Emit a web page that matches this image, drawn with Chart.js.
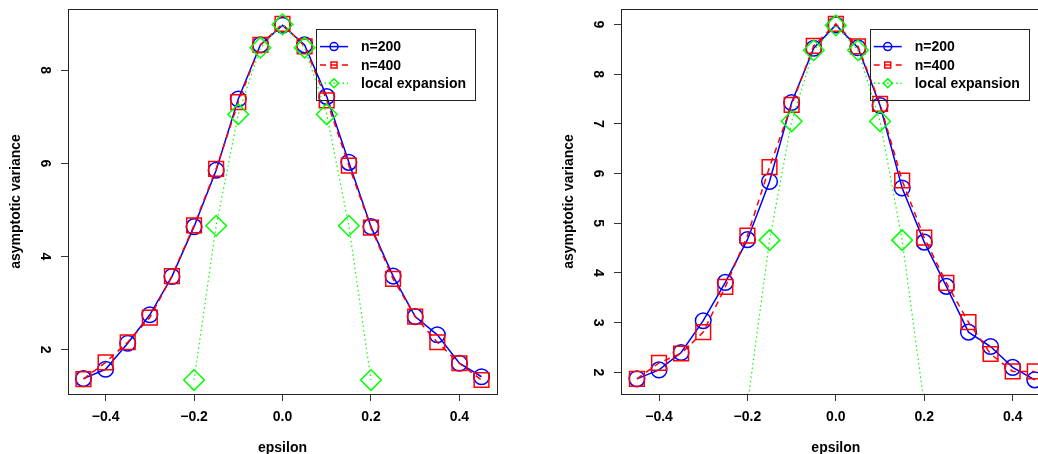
<!DOCTYPE html>
<html>
<head>
<meta charset="utf-8">
<title>asymptotic variance</title>
<script src="https://cdn.jsdelivr.net/npm/chart.js@4/dist/chart.umd.min.js"></script>
<style>
    html, body { margin: 0; padding: 0; background: #fff; overflow: hidden; }
    #wrap { position: relative; width: 1038px; height: 454px; overflow: hidden; }
    .panel { position: absolute; top: 0; }
</style>
</head>
<body>
<div id="wrap">
    <div class="panel" style="left:0px"><canvas id="leftChart" width="519" height="454"></canvas></div>
    <div class="panel" style="left:519px"><canvas id="rightChart" width="540" height="454"></canvas></div>
</div>
<script>
// epsilon values (x axis)
const epsilon = [-0.45, -0.40, -0.35, -0.30, -0.25, -0.20, -0.15, -0.10, -0.05, 0.00,
                 0.05, 0.10, 0.15, 0.20, 0.25, 0.30, 0.35, 0.40, 0.45];

// left panel
const leftN200 = [1.38, 1.58, 2.14, 2.75, 3.57, 4.64, 5.85, 7.38, 8.54, 8.96,
                  8.54, 7.43, 6.02, 4.64, 3.58, 2.71, 2.32, 1.71, 1.42];
const leftN400 = [1.37, 1.73, 2.16, 2.69, 3.58, 4.67, 5.88, 7.31, 8.54, 8.99,
                  8.51, 7.35, 5.95, 4.62, 3.52, 2.71, 2.16, 1.71, 1.35];

// right panel
const rightN200 = [1.87, 2.05, 2.40, 3.04, 3.81, 4.67, 5.84, 7.43, 8.52, 8.99,
                   8.53, 7.37, 5.71, 4.62, 3.73, 2.81, 2.52, 2.10, 1.85];
const rightN400 = [1.87, 2.19, 2.38, 2.81, 3.72, 4.75, 6.13, 7.38, 8.57, 9.01,
                   8.56, 7.40, 5.86, 4.71, 3.80, 3.01, 2.37, 2.02, 2.02];

// local expansion (same curve in both panels)
const localEps = [-0.20, -0.15, -0.10, -0.05, 0.00, 0.05, 0.10, 0.15, 0.20];
const localExp = [1.35, 4.66, 7.05, 8.48, 8.98, 8.48, 7.05, 4.66, 1.35];

const xTicks = [-0.4, -0.2, 0.0, 0.2, 0.4];
const leftYTicks = [2, 4, 6, 8];
const rightYTicks = [2, 3, 4, 5, 6, 7, 8, 9];

const seriesLabels = ["n=200", "n=400", "local expansion"];

const FONT = "'Liberation Sans', Arial, sans-serif";
const BLUE = "#0000ff", RED = "#ff0000", GREEN = "#00ff00";

function toPoints(xs, ys) {
    return xs.map((x, i) => ({ x: x, y: ys[i] }));
}

// draws the box around the plot region and the R-style legend
const framePlugin = {
    id: "frame",
    afterDatasetsDraw(chart) {
        const ctx = chart.ctx;
        const a = chart.chartArea;
        ctx.save();
        ctx.strokeStyle = "#222";
        ctx.lineWidth = 1;
        ctx.setLineDash([]);
        ctx.strokeRect(Math.round(a.left) + 0.5, Math.round(a.top) + 0.5,
                       Math.round(a.right - a.left), Math.round(a.bottom - a.top));

        // legend box
        const right = a.right - 21.3;
        const left = right - 159.7;
        const top = a.top + 19.6;
        ctx.strokeRect(Math.round(left) + 0.5, Math.round(top) + 0.5, 159, 71);

        chart.data.datasets.forEach((ds, i) => {
            const y = top + 18 + i * 18.3;
            ctx.strokeStyle = ds.borderColor;
            ctx.lineWidth = 1.5;
            ctx.setLineDash(ds.borderDash || []);
            ctx.beginPath();
            ctx.moveTo(left + 4, y);
            ctx.lineTo(left + 32, y);
            ctx.stroke();
            ctx.setLineDash([]);
            const cx = left + 18;
            ctx.beginPath();
            if (ds.pointStyle === "circle") {
                ctx.arc(cx, y, 4, 0, Math.PI * 2);
            } else if (ds.pointStyle === "rect") {
                ctx.rect(cx - 3, y - 3, 6, 6);
            } else {
                ctx.moveTo(cx, y - 4.5); ctx.lineTo(cx + 4.5, y);
                ctx.lineTo(cx, y + 4.5); ctx.lineTo(cx - 4.5, y);
                ctx.closePath();
            }
            ctx.stroke();
            ctx.fillStyle = "#000";
            ctx.font = "bold 14px " + FONT;
            ctx.textBaseline = "middle";
            ctx.textAlign = "left";
            ctx.fillText(seriesLabels[i], left + 45, y + 1);
        });
        ctx.restore();
    }
};

function makeChart(canvasId, n200, n400, yMin, yMax, xMin, xMax, yTicks, padding) {
    const ctx = document.getElementById(canvasId).getContext("2d");
    return new Chart(ctx, {
        type: "line",
        data: {
            datasets: [
                { label: seriesLabels[0], data: toPoints(epsilon, n200), borderColor: BLUE,
                  backgroundColor: "transparent", borderWidth: 1.5, pointStyle: "circle",
                  pointRadius: 7.8, pointBorderWidth: 1.5, order: 2, tension: 0 },
                { label: seriesLabels[1], data: toPoints(epsilon, n400), borderColor: RED,
                  backgroundColor: "transparent", borderWidth: 1.5, borderDash: [6, 5],
                  pointStyle: "rect", pointRadius: 10.4, pointBorderWidth: 1.5, order: 1, tension: 0 },
                { label: seriesLabels[2], data: toPoints(localEps, localExp), borderColor: GREEN,
                  backgroundColor: "transparent", borderWidth: 1.2, borderDash: [1.5, 3],
                  pointStyle: "rectRot", pointRadius: 10.3, pointBorderWidth: 1.5, order: 0, tension: 0 }
            ]
        },
        options: {
            responsive: false,
            animation: false,
            devicePixelRatio: 1,
            events: [],
            layout: { padding: padding, autoPadding: false },
            plugins: { legend: { display: false }, tooltip: { enabled: false } },
            scales: {
                x: {
                    type: "linear",
                    min: xMin, max: xMax,
                    afterBuildTicks: (s) => { s.ticks = xTicks.map(v => ({ value: v })); },
                    afterFit: (s) => { s.height = 60; s.paddingLeft = 0; s.paddingRight = 0; },
                    border: { display: false },
                    grid: { drawOnChartArea: false, drawTicks: true, tickLength: 7, color: "#333" },
                    ticks: {
                        color: "#000", padding: 8, maxRotation: 0, autoSkip: false,
                        font: { family: FONT, size: 14, weight: "bold" },
                        callback: (v) => v.toFixed(1).replace("-", "\u2212")
                    },
                    title: { display: true, text: "epsilon", color: "#000",
                             padding: { top: 0, bottom: -3 },
                             font: { family: FONT, size: 14, weight: "bold" } }
                },
                y: {
                    min: yMin, max: yMax,
                    afterBuildTicks: (s) => { s.ticks = yTicks.map(v => ({ value: v })); },
                    afterFit: (s) => { s.width = 68; s.paddingTop = 0; s.paddingBottom = 0; },
                    border: { display: false },
                    grid: { drawOnChartArea: false, drawTicks: true, tickLength: 7, color: "#333" },
                    ticks: {
                        color: "#000", padding: 12, minRotation: -90, maxRotation: -90,
                        crossAlign: "center", autoSkip: false,
                        font: { family: FONT, size: 14, weight: "bold" },
                        callback: (v) => String(v)
                    },
                    title: { display: true, text: "asymptotic variance", color: "#000",
                             padding: { top: 8, bottom: 0 },
                             font: { family: FONT, size: 14, weight: "bold" } }
                }
            }
        },
        plugins: [framePlugin]
    });
}

makeChart("leftChart", leftN200, leftN400, 1.05, 9.31, -0.485, 0.485, leftYTicks,
          { left: 0, right: 22, top: 9, bottom: 0 });
makeChart("rightChart", rightN200, rightN400, 1.565, 9.31, -0.486, 0.486, rightYTicks,
          { left: 34, right: 8.3, top: 9, bottom: 0 });
</script>
</body>
</html>
